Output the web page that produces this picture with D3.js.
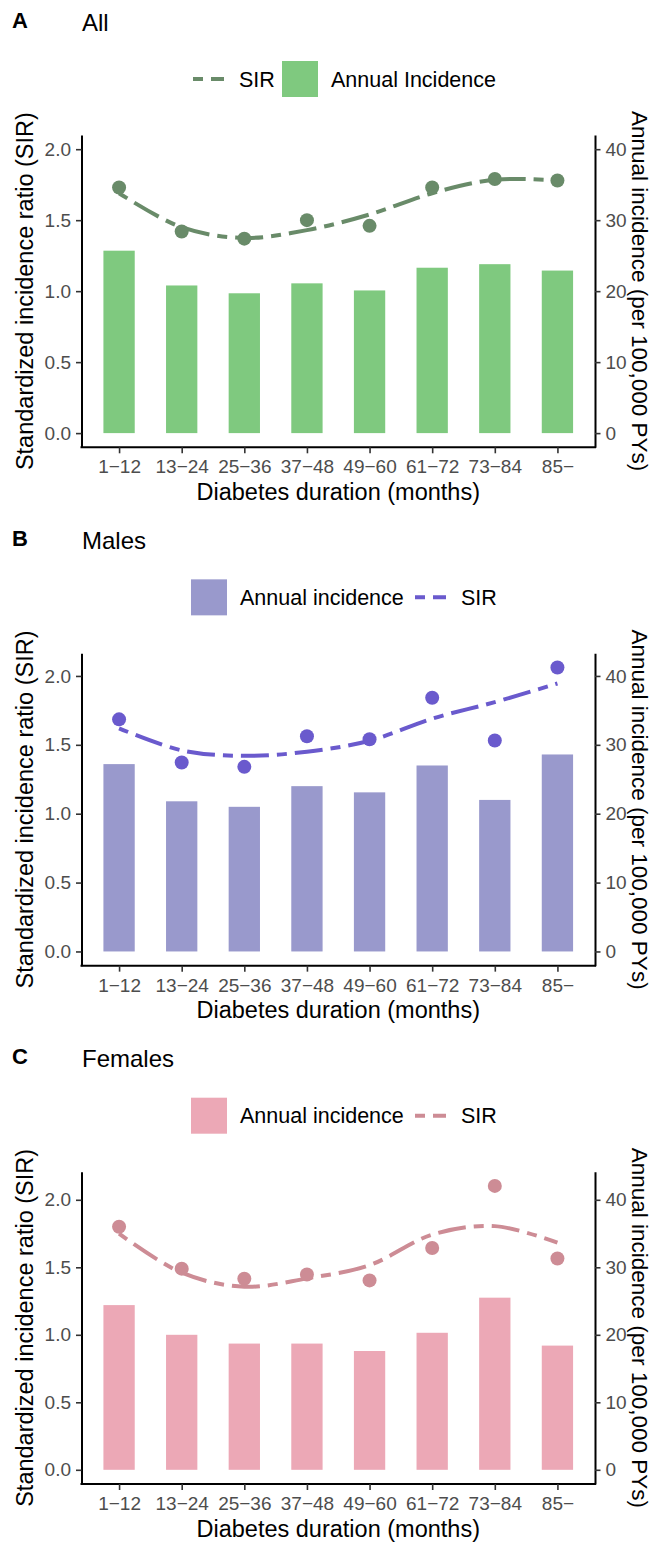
<!DOCTYPE html>
<html>
<head>
<meta charset="utf-8">
<script src="https://cdn.jsdelivr.net/npm/d3@7"></script>
<style>
  body { margin: 0; background: #fff; }
  svg text { font-family: "Liberation Sans", Arial, sans-serif; }
</style>
</head>
<body>
<div id="chart"></div>
<script>
// categories
const durations = ["1\u221212", "13\u221224", "25\u221236", "37\u221248", "49\u221260", "61\u221272", "73\u221284", "85\u2212"];

// A - All
const allIncidence = [25.7, 20.8, 19.7, 21.1, 20.1, 23.3, 23.8, 22.9];
const allSIR = [1.73, 1.42, 1.37, 1.50, 1.46, 1.73, 1.79, 1.78];
const allSIRFit = [1.69, 1.45, 1.375, 1.43, 1.54, 1.69, 1.785, 1.78];

// B - Males
const maleIncidence = [27.2, 21.8, 21.0, 24.0, 23.1, 27.0, 22.0, 28.6];
const maleSIR = [1.685, 1.372, 1.340, 1.562, 1.540, 1.842, 1.531, 2.061];
const maleSIRFit = [1.62, 1.46, 1.42, 1.45, 1.53, 1.69, 1.81, 1.945];

// C - Females
const femaleIncidence = [24.4, 20.0, 18.7, 18.7, 17.6, 20.3, 25.5, 18.4];
const femaleSIR = [1.80, 1.49, 1.415, 1.447, 1.403, 1.643, 2.103, 1.565];
const femaleSIRFit = [1.75, 1.46, 1.356, 1.418, 1.516, 1.742, 1.805, 1.683];

// ticks
const sirTicks = [0, 0.5, 1.0, 1.5, 2.0];
const incTicks = [0, 10, 20, 30, 40];
const incPerSIR = 20;   // secondary axis = SIR * 20

const width = 653, height = 1544;
const svg = d3.select('#chart').append('svg')
    .attr('width', width)
    .attr('height', height);

const plotLeft = 81.5, plotRight = 595, plotTop = 135, plotBottom = 447.3;
const panelStep = 518.35;
const dash = '10,8,28,8';

const panels = [
    { tag: 'A', title: 'All', inc: allIncidence, sir: allSIR, fit: allSIRFit,
      barColor: '#7FC97F', lineColor: '#698B69', incLabel: 'Annual Incidence', lineFirst: true },
    { tag: 'B', title: 'Males', inc: maleIncidence, sir: maleSIR, fit: maleSIRFit,
      barColor: '#9999CC', lineColor: '#6A5ACD', incLabel: 'Annual incidence', lineFirst: false },
    { tag: 'C', title: 'Females', inc: femaleIncidence, sir: femaleSIR, fit: femaleSIRFit,
      barColor: '#ECA8B6', lineColor: '#CD8C95', incLabel: 'Annual incidence', lineFirst: false }
];

function drawPanel(p, i) {
    const g = svg.append('g').attr('transform', `translate(0, ${i * panelStep})`);

    const x = d3.scalePoint()
        .domain(durations)
        .range([plotLeft, plotRight])
        .padding(0.6);
    const barW = x.step() * 0.5;

    // ggplot-like 5% expansion
    const top = Math.max(2.0, d3.max(p.sir));
    const pad = top * 0.05;
    const y = d3.scaleLinear().domain([-pad, top + pad]).range([plotBottom, plotTop]);
    const y2 = d3.scaleLinear().domain([-pad * incPerSIR, (top + pad) * incPerSIR]).range([plotBottom, plotTop]);

    // titles
    g.append('text').attr('x', 12).attr('y', 27.5)
        .attr('font-size', 22).attr('font-weight', 'bold').text(p.tag);
    g.append('text').attr('x', 82).attr('y', 30.7)
        .attr('font-size', 24).text(p.title);

    // bars
    g.selectAll('rect.bar')
        .data(p.inc)
        .enter()
        .append('rect')
        .attr('class', 'bar')
        .attr('x', (d, j) => x(durations[j]) - barW / 2)
        .attr('width', barW)
        .attr('y', d => y2(d))
        .attr('height', d => y2(0) - y2(d))
        .attr('fill', p.barColor);

    // fitted SIR line
    const line = d3.line()
        .x((d, j) => x(durations[j]))
        .y(d => y(d))
        .curve(d3.curveCatmullRom.alpha(0.5));
    g.append('path')
        .datum(p.fit)
        .attr('d', line)
        .attr('fill', 'none')
        .attr('stroke', p.lineColor)
        .attr('stroke-width', 4)
        .attr('stroke-dasharray', dash);

    // SIR points
    g.selectAll('circle.pt')
        .data(p.sir)
        .enter()
        .append('circle')
        .attr('class', 'pt')
        .attr('cx', (d, j) => x(durations[j]))
        .attr('cy', d => y(d))
        .attr('r', 7)
        .attr('fill', p.lineColor);

    // axes
    const styleAxis = (ax) => {
        ax.select('.domain').attr('stroke', '#000').attr('stroke-width', 2);
        ax.selectAll('.tick line').attr('stroke', '#333').attr('stroke-width', 1.6);
        ax.selectAll('.tick text').attr('fill', '#4D4D4D').attr('font-size', 19)
            .attr('font-family', '"Liberation Sans", Arial, sans-serif');
    };

    const xAxis = g.append('g')
        .attr('transform', `translate(0, ${plotBottom})`)
        .call(d3.axisBottom(x).tickSize(6).tickSizeOuter(0).tickPadding(6.5));
    xAxis.select('.domain').attr('d', `M${plotLeft - 1},0H${plotRight + 1}`);
    styleAxis(xAxis);

    const yAxis = g.append('g')
        .attr('transform', `translate(${plotLeft}, 0)`)
        .call(d3.axisLeft(y).tickValues(sirTicks).tickFormat(d3.format('.1f'))
            .tickSize(5.5).tickSizeOuter(0).tickPadding(5));
    styleAxis(yAxis);

    const yAxis2 = g.append('g')
        .attr('transform', `translate(${plotRight}, 0)`)
        .call(d3.axisRight(y2).tickValues(incTicks).tickFormat(d3.format('d'))
            .tickSize(5.5).tickSizeOuter(0).tickPadding(5));
    styleAxis(yAxis2);

    // axis titles
    const midY = (plotTop + plotBottom) / 2;
    g.append('text')
        .attr('transform', `translate(33, ${midY}) rotate(-90)`)
        .attr('text-anchor', 'middle')
        .attr('font-size', 23.5)
        .text('Standardized incidence ratio (SIR)');
    g.append('text')
        .attr('transform', `translate(632, ${midY}) rotate(90)`)
        .attr('text-anchor', 'middle')
        .attr('font-size', 22.5)
        .text('Annual incidence (per 100,000 PYs)');
    g.append('text')
        .attr('x', (plotLeft + plotRight) / 2)
        .attr('y', 500)
        .attr('text-anchor', 'middle')
        .attr('font-size', 23.5)
        .text('Diabetes duration (months)');

    // legend
    const leg = g.append('g');
    const legY = 79;
    function lineKey(x0) {
        leg.append('line')
            .attr('x1', x0).attr('x2', x0 + 31)
            .attr('y1', legY).attr('y2', legY)
            .attr('stroke', p.lineColor)
            .attr('stroke-width', 4)
            .attr('stroke-dasharray', dash);
        leg.append('text').attr('x', x0 + 46).attr('y', 86.7)
            .attr('font-size', 21.5).text('SIR');
    }
    function barKey(x0) {
        leg.append('rect')
            .attr('x', x0).attr('y', legY - 18)
            .attr('width', 36).attr('height', 36)
            .attr('fill', p.barColor);
        leg.append('text').attr('x', x0 + 49).attr('y', 86.7)
            .attr('font-size', 21.5).text(p.incLabel);
    }
    if (p.lineFirst) {
        lineKey(193);
        barKey(282);
    } else {
        barKey(191);
        lineKey(415);
    }
}

panels.forEach(drawPanel);
</script>
</body>
</html>
